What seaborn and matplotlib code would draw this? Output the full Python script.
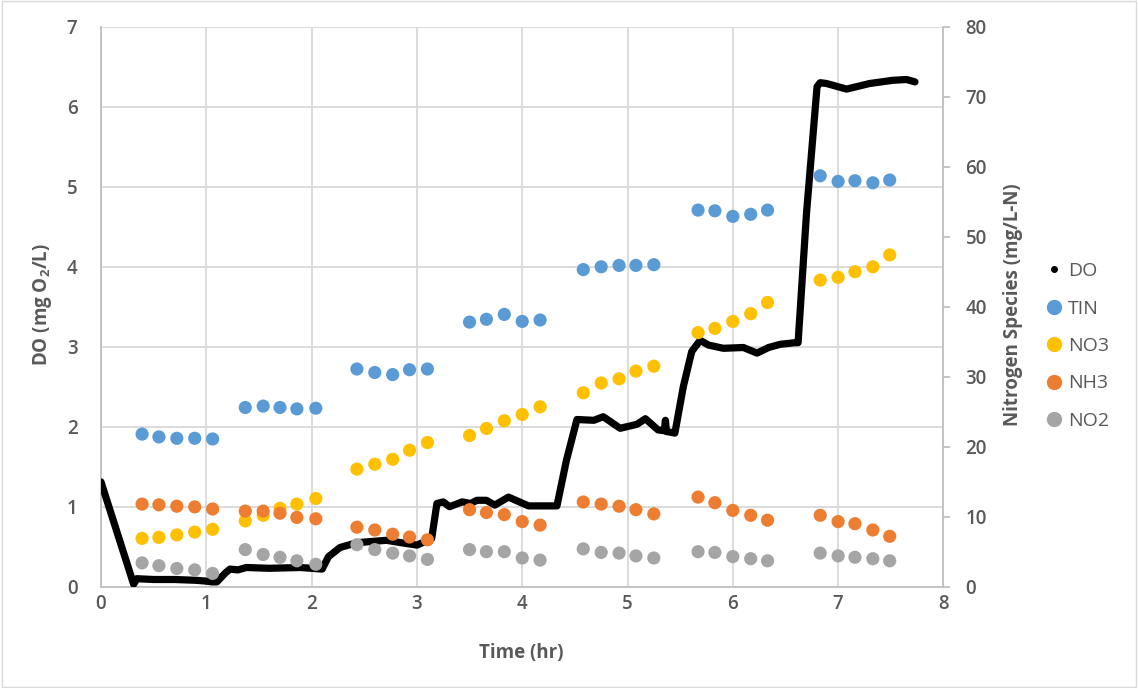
import matplotlib
matplotlib.use("Agg")
import matplotlib.pyplot as plt
from matplotlib.lines import Line2D
from matplotlib.patches import Rectangle
import numpy as np
import pandas as pd
import seaborn as sns

# ---- dissolved oxygen sensor trace (hr, mg O2/L) ----
do_time = [0.00, 0.31, 0.34, 0.50, 0.70, 0.90, 1.00, 1.05, 1.10, 1.18,
           1.225, 1.30, 1.38, 1.60, 1.89, 2.00, 2.10, 2.16, 2.27, 2.43,
           2.71, 2.85, 3.00, 3.14, 3.19, 3.25, 3.31, 3.43, 3.51, 3.57,
           3.66, 3.74, 3.87, 4.06, 4.33, 4.42, 4.52, 4.68, 4.77, 4.93,
           5.09, 5.17, 5.29, 5.35, 5.36, 5.37, 5.45, 5.53, 5.61, 5.69,
           5.77, 5.91, 6.10, 6.23, 6.34, 6.45, 6.59, 6.62, 6.70, 6.80,
           6.83, 6.89, 7.08, 7.30, 7.52, 7.65, 7.73]
do_value = [1.31, 0.03, 0.10, 0.09, 0.09, 0.08, 0.07, 0.06, 0.06, 0.17,
            0.22, 0.21, 0.24, 0.23, 0.24, 0.23, 0.22, 0.375, 0.49, 0.55,
            0.58, 0.55, 0.52, 0.60, 1.04, 1.06, 1.00, 1.06, 1.04, 1.08,
            1.08, 1.02, 1.12, 1.01, 1.01, 1.58, 2.09, 2.08, 2.125, 1.98,
            2.03, 2.10, 1.96, 1.95, 2.08, 1.94, 1.92, 2.50, 2.94, 3.08,
            3.02, 2.98, 2.99, 2.92, 2.99, 3.03, 3.05, 3.05, 4.67, 6.25,
            6.30, 6.29, 6.22, 6.29, 6.33, 6.34, 6.31]

# ---- grab-sample times (hr) ----
sample_time = [0.39, 0.55, 0.72, 0.89, 1.06,
               1.37, 1.54, 1.70, 1.86, 2.04,
               2.43, 2.60, 2.77, 2.93, 3.10,
               3.50, 3.66, 3.83, 4.00, 4.17,
               4.58, 4.75, 4.92, 5.08, 5.25,
               5.67, 5.83, 6.00, 6.17, 6.33,
               6.83, 7.00, 7.16, 7.33, 7.49]

# ---- nitrogen species (mg/L-N) ----
tin = [21.8, 21.4, 21.2, 21.2, 21.1, 25.6, 25.8, 25.6, 25.4, 25.5,
       31.1, 30.6, 30.3, 31.0, 31.1, 37.8, 38.2, 38.9, 37.9, 38.1,
       45.3, 45.7, 45.9, 45.9, 46.0, 53.8, 53.7, 52.9, 53.2, 53.8,
       58.7, 57.9, 58.0, 57.7, 58.1]
no3 = [6.9, 7.05, 7.4, 7.8, 8.2, 9.4, 10.2, 11.2, 11.8, 12.6,
       16.8, 17.5, 18.2, 19.5, 20.6, 21.6, 22.6, 23.7, 24.6, 25.7,
       27.7, 29.1, 29.7, 30.8, 31.5, 36.3, 36.9, 37.9, 39.0, 40.6,
       43.8, 44.2, 45.0, 45.7, 47.4]
nh3 = [11.8, 11.7, 11.5, 11.4, 11.1, 10.8, 10.8, 10.5, 9.9, 9.7,
       8.5, 8.1, 7.5, 7.1, 6.7, 11.0, 10.6, 10.3, 9.3, 8.8,
       12.1, 11.8, 11.5, 11.0, 10.4, 12.8, 12.0, 10.9, 10.2, 9.5,
       10.2, 9.3, 9.0, 8.1, 7.2]
no2 = [3.4, 3.0, 2.6, 2.4, 1.9, 5.3, 4.6, 4.2, 3.7, 3.2,
       6.0, 5.3, 4.8, 4.4, 3.9, 5.3, 5.0, 5.0, 4.1, 3.8,
       5.4, 4.9, 4.8, 4.4, 4.1, 5.0, 4.9, 4.3, 4.0, 3.7,
       4.8, 4.4, 4.2, 4.0, 3.7]

species_names = ["TIN", "NO3", "NH3", "NO2"]
species_colors = ["#5B9BD5", "#FFC000", "#ED7D31", "#A5A5A5"]

x_ticks = list(range(0, 9))
do_ticks = list(range(0, 8))
n_ticks = list(range(0, 81, 10))

# ---- styling ----
sns.set_theme(style="white")
plt.rcParams["font.family"] = ["Open Sans", "DejaVu Sans"]
plt.rcParams["mathtext.fontset"] = "custom"
plt.rcParams["mathtext.rm"] = "Open Sans"
plt.rcParams["mathtext.bf"] = "Open Sans:bold"

text_gray = "#595959"
grid_gray = "#d9d9d9"
axis_gray = "#bfbfbf"

W, H = 1138, 688
fig = plt.figure(figsize=(W / 100, H / 100), dpi=100)
fig.patch.set_facecolor("white")
fig.add_artist(Rectangle((0.0015, 0.002), 0.997, 0.996, transform=fig.transFigure,
                         fill=False, edgecolor="#d9d9d9", lw=1.0))

left_px, right_px, top_px, bottom_px = 101, 943.4, 26.7, 586.7
ax = fig.add_axes([left_px / W, 1 - bottom_px / H,
                   (right_px - left_px) / W, (bottom_px - top_px) / H])

do_df = pd.DataFrame({"Time": do_time, "DO": do_value})
sns.lineplot(data=do_df, x="Time", y="DO", ax=ax, color="black",
             sort=False, estimator=None, zorder=3)
for ln in ax.get_lines():
    ln.set_linewidth(5.2)
    ln.set_solid_joinstyle("round")
    ln.set_solid_capstyle("round")

ax.set_xlim(0, 8)
ax.set_ylim(0, 7)
ax.set_xticks(x_ticks)
ax.set_yticks(do_ticks)
ax.grid(True, color=grid_gray, lw=1.3)
ax.set_axisbelow(True)
ax.set_xlabel("")
ax.set_ylabel("")
for side in ["top", "right"]:
    ax.spines[side].set_visible(False)
for side in ["left", "bottom"]:
    ax.spines[side].set_color(axis_gray)
    ax.spines[side].set_linewidth(1.3)
ax.tick_params(axis="both", length=0, colors=text_gray, labelsize=13.5)
ax.tick_params(axis="y", pad=17)
ax.tick_params(axis="x", pad=5)
for lab in ax.get_xticklabels() + ax.get_yticklabels():
    lab.set_fontweight("semibold")

# ---- nitrogen species on the secondary axis ----
ax2 = ax.twinx()
n_df = pd.DataFrame({
    "Time": sample_time * 4,
    "Conc": tin + no3 + nh3 + no2,
    "Species": np.repeat(species_names, len(sample_time)),
})
sns.scatterplot(data=n_df, x="Time", y="Conc", hue="Species",
                hue_order=species_names, palette=species_colors,
                s=90, linewidth=0, ax=ax2, legend=False, zorder=4)
ax2.set_ylim(0, 80)
ax2.set_yticks(n_ticks)
ax2.set_xlim(0, 8)
ax2.set_ylabel("")
ax2.set_xlabel("")
ax2.grid(False)
for side in ["top", "left", "bottom"]:
    ax2.spines[side].set_visible(False)
ax2.spines["right"].set_color(axis_gray)
ax2.spines["right"].set_linewidth(1.3)
ax2.tick_params(axis="y", length=5, width=1.3, color=axis_gray, colors=text_gray,
                labelsize=13.5, pad=11, direction="out")
ax2.tick_params(axis="y", color=axis_gray)
for lab in ax2.get_yticklabels():
    lab.set_fontweight("semibold")

# ---- axis titles ----
fig.text(42 / W, 1 - 305 / H, r"DO (mg O$_\mathbf{2}$/L)", rotation=90,
         ha="center", va="center", fontsize=13.5, fontweight="bold", color=text_gray)
fig.text(521 / W, 1 - 653 / H, "Time (hr)", ha="center", va="center",
         fontsize=13.5, fontweight="bold", color=text_gray)
fig.text(1013 / W, 1 - 305 / H, "Nitrogen Species (mg/L-N)", rotation=90,
         ha="center", va="center", fontsize=13.5, fontweight="bold", color=text_gray)

# ---- legend ----
handles = [Line2D([], [], color="black", marker="o", markersize=4, lw=0)]
handles += [Line2D([], [], color=c, marker="o", markersize=10, lw=0)
            for c in species_colors]
labels = ["DO"] + species_names
leg = fig.legend(handles, labels, loc="center left",
                 bbox_to_anchor=(1036 / W, 1 - 346 / H), frameon=False,
                 fontsize=14, labelcolor=text_gray, handlelength=0.8,
                 handletextpad=0.35, labelspacing=1.0, borderpad=0)

fig.savefig("out.png", dpi=100, facecolor="white")
